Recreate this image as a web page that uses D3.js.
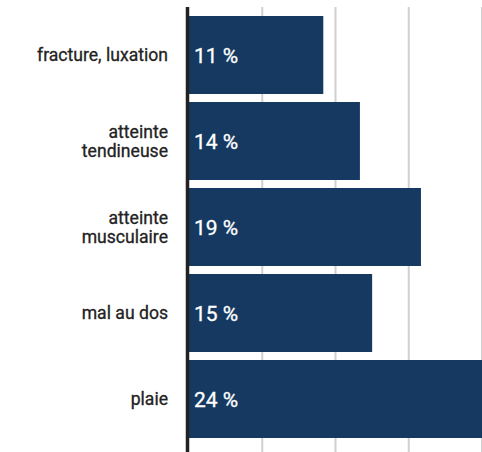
<!DOCTYPE html>
<html>
<head>
<meta charset="utf-8">
<script src="https://cdn.jsdelivr.net/npm/d3@7"></script>
<style>
  html, body { margin: 0; padding: 0; background: #fff; }
  svg { display: block; font-family: Roboto, "Noto Sans", sans-serif; }
</style>
</head>
<body>
<svg id="chart" width="482" height="452"></svg>
<script>
const categories = [["fracture, luxation"], ["atteinte", "tendineuse"], ["atteinte", "musculaire"], ["mal au dos"], ["plaie"]];
const values = [11, 14, 19, 15, 24];
const valueLabels = ["11 %", "14 %", "19 %", "15 %", "24 %"];
const tickValues = [6, 12, 18, 24];

const W = 482, H = 452;
const svg = d3.select("#chart");

const x = d3.scaleLinear().domain([0, 24]).range([189, 482]);
const y = d3.scaleBand().domain(d3.range(categories.length)).range([8, 446]).paddingInner(0.093).paddingOuter(0.093);

// gridlines
svg.append("g").selectAll("line").data(tickValues).join("line")
  .attr("x1", d => x(d)).attr("x2", d => x(d))
  .attr("y1", 7).attr("y2", H)
  .attr("stroke", "#d0d0d0").attr("stroke-width", 2);

// bars
svg.append("g").selectAll("rect").data(values).join("rect")
  .attr("x", x(0))
  .attr("y", (d, i) => y(i))
  .attr("width", d => x(d) - x(0))
  .attr("height", y.bandwidth())
  .attr("fill", "#163961");

// value labels
svg.append("g").selectAll("text").data(values).join("text")
  .attr("x", x(0) + 5)
  .attr("y", (d, i) => y(i) + y.bandwidth() / 2)
  .attr("dy", "0.36em")
  .attr("fill", "#fff")
  .attr("stroke", "#fff").attr("stroke-width", 0.3)
  .attr("font-size", 21)
  .attr("font-weight", 400)
  .text((d, i) => valueLabels[i]);

// category labels
const lh = 19.5;
const cat = svg.append("g").selectAll("text").data(categories).join("text")
  .attr("text-anchor", "end")
  .attr("fill", "#222")
  .attr("stroke", "#222").attr("stroke-width", 0.3)
  .attr("font-size", 17.6)
  .attr("font-weight", 400);
cat.each(function(lines, i) {
  const cy = y(i) + y.bandwidth() / 2;
  const t = d3.select(this);
  lines.forEach((ln, j) => {
    t.append("tspan")
      .attr("x", 168)
      .attr("y", cy + (j - (lines.length - 1) / 2) * lh)
      .attr("dy", "0.36em")
      .text(ln);
  });
});

// axis line
svg.append("line")
  .attr("x1", 187.5).attr("x2", 187.5)
  .attr("y1", 7).attr("y2", H)
  .attr("stroke", "#222").attr("stroke-width", 3.5);
</script>
</body>
</html>
